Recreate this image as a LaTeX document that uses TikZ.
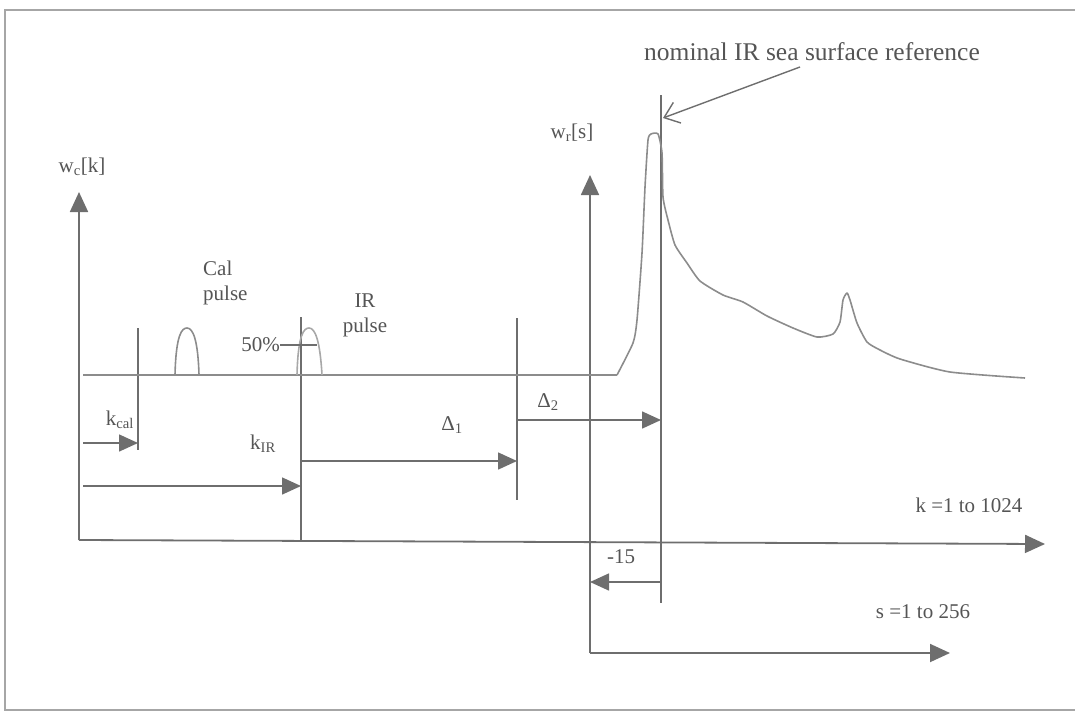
\documentclass[tikz,border=0pt]{standalone}
\usepackage{fontspec}
\setmainfont{Liberation Serif}
\usetikzlibrary{arrows.meta}
\definecolor{axisgray}{HTML}{6E6E6E}
\definecolor{siggray}{HTML}{8C8C8C}
\definecolor{pulsegray}{HTML}{A8A8A8}
\definecolor{txtgray}{HTML}{555555}
\definecolor{framegray}{HTML}{A6A6A6}
\tikzset{
  axis/.style={draw=axisgray,line width=1.8pt,-{Triangle[length=20pt,width=18pt]}},
  dim/.style={draw=axisgray,line width=1.6pt,-{Triangle[length=19pt,width=17pt]}},
  tick/.style={draw=axisgray,line width=1.6pt},
  signal/.style={draw=siggray,line width=1.6pt,line join=round},
  lbl/.style={text=txtgray,inner sep=0pt,font=\fontsize{21}{25}\selectfont}
}
\begin{document}
\begin{tikzpicture}[x=1pt,y=-1pt]
\useasboundingbox (0,0) rectangle (1075,712);

% Marco
\draw[framegray,line width=1.2pt] (1075,10) -- (5,10) -- (5,710) -- (1075,710);

% Puntos
\coordinate (o) at (79,540);
\coordinate (wctip) at (79,192);
\coordinate (ktip) at (1045,544);
\coordinate (os) at (590,653);
\coordinate (wrtip) at (590,175);
\coordinate (stip) at (950,653);
\coordinate (calT) at (138,328);
\coordinate (calB) at (138,450);
\coordinate (irT) at (301,317);
\coordinate (irB) at (301,540);
\coordinate (dT) at (517,318);
\coordinate (dB) at (517,500);
\coordinate (refT) at (661,95);
\coordinate (refB) at (661,603);

% Ejes
\draw[axis] (o) -- (wctip);
\draw[axis] (o) -- (ktip);
\draw[axis] (os) -- (wrtip);
\draw[axis] (os) -- (stip);

% Marcas
\draw[tick] (calT) -- (calB);
\draw[tick] (irT) -- (irB);
\draw[tick] (dT) -- (dB);
\draw[tick] (refT) -- (refB);

% Senal
\draw[signal] (83,375) -- (617,375);
\draw[signal] plot[smooth,tension=0.35] coordinates {(617,375) (633,343) (637,320) (642,253) (645,187) (648,140) (651,134) (658,134) (662,153) (663,197) (668,220) (675,245) (687,263) (700,281) (723,295) (743,302) (767,316) (793,328) (817,337) (833,334) (840,322) (843,300) (847,293) (850,300) (857,323) (867,342) (880,350) (900,359) (950,372) (1025,378)};

% Pulsos
\draw[signal] (175,375) .. controls (176,334) and (182,328) .. (187,328) .. controls (193,328) and (198,340) .. (199,375);
\draw[signal,draw=pulsegray] (297,375) .. controls (298,334) and (304,328) .. (309,328) .. controls (315,328) and (320,340) .. (322,375);
\coordinate (halfL) at (280,345);
\coordinate (halfR) at (317,345);
\draw[tick,line width=1.3pt] (halfL) -- (halfR);

% Medidas
\coordinate (kcalS) at (83,443);
\draw[dim] (kcalS) -- (kcalS -| calT);
\coordinate (kirS) at (83,486);
\draw[dim] (kirS) -- (kirS -| irT);
\coordinate (d1S) at (301,461);
\draw[dim] (d1S) -- (d1S -| dT);
\coordinate (d2S) at (517,420);
\draw[dim] (d2S) -- (d2S -| refT);
\coordinate (m15S) at (661,582);
\draw[dim] (m15S) -- (m15S -| os);

% Referencia
\node[lbl,font=\fontsize{25.5}{29}\selectfont] (nominal) at (812,52) {nominal IR sea surface reference};
\coordinate (nomS) at (800,67);
\coordinate (refhit) at (663,118);
\draw[draw=axisgray,line width=1.4pt,-{Straight Barb[length=14pt,width=22pt]}] (nomS) -- (refhit);

% Textos
\node[lbl] (wc) at (82,167) {w\textsubscript{c}[k]};
\node[lbl] (wr) at (572,133) {w\textsubscript{r}[s]};
\node[lbl,align=left,anchor=west] (cal) at (203,283) {Cal\\pulse};
\node[lbl,align=center] (ir) at (365,315) {IR\\pulse};
\node[lbl,anchor=east] (half) at (halfL) {50\%};
\node[lbl] (kcal) at (120,420) {k\textsubscript{cal}};
\node[lbl] (kir) at (263,444) {k\textsubscript{IR}};
\node[lbl] (d1) at (452,425) {Δ\textsubscript{1}};
\node[lbl] (d2) at (548,402) {Δ\textsubscript{2}};
\node[lbl] (m15) at (621,557) {-15};
\node[lbl] (krange) at (969,505) {k =1 to 1024};
\node[lbl] (srange) at (923,612) {s =1 to 256};

\end{tikzpicture}
\end{document}
